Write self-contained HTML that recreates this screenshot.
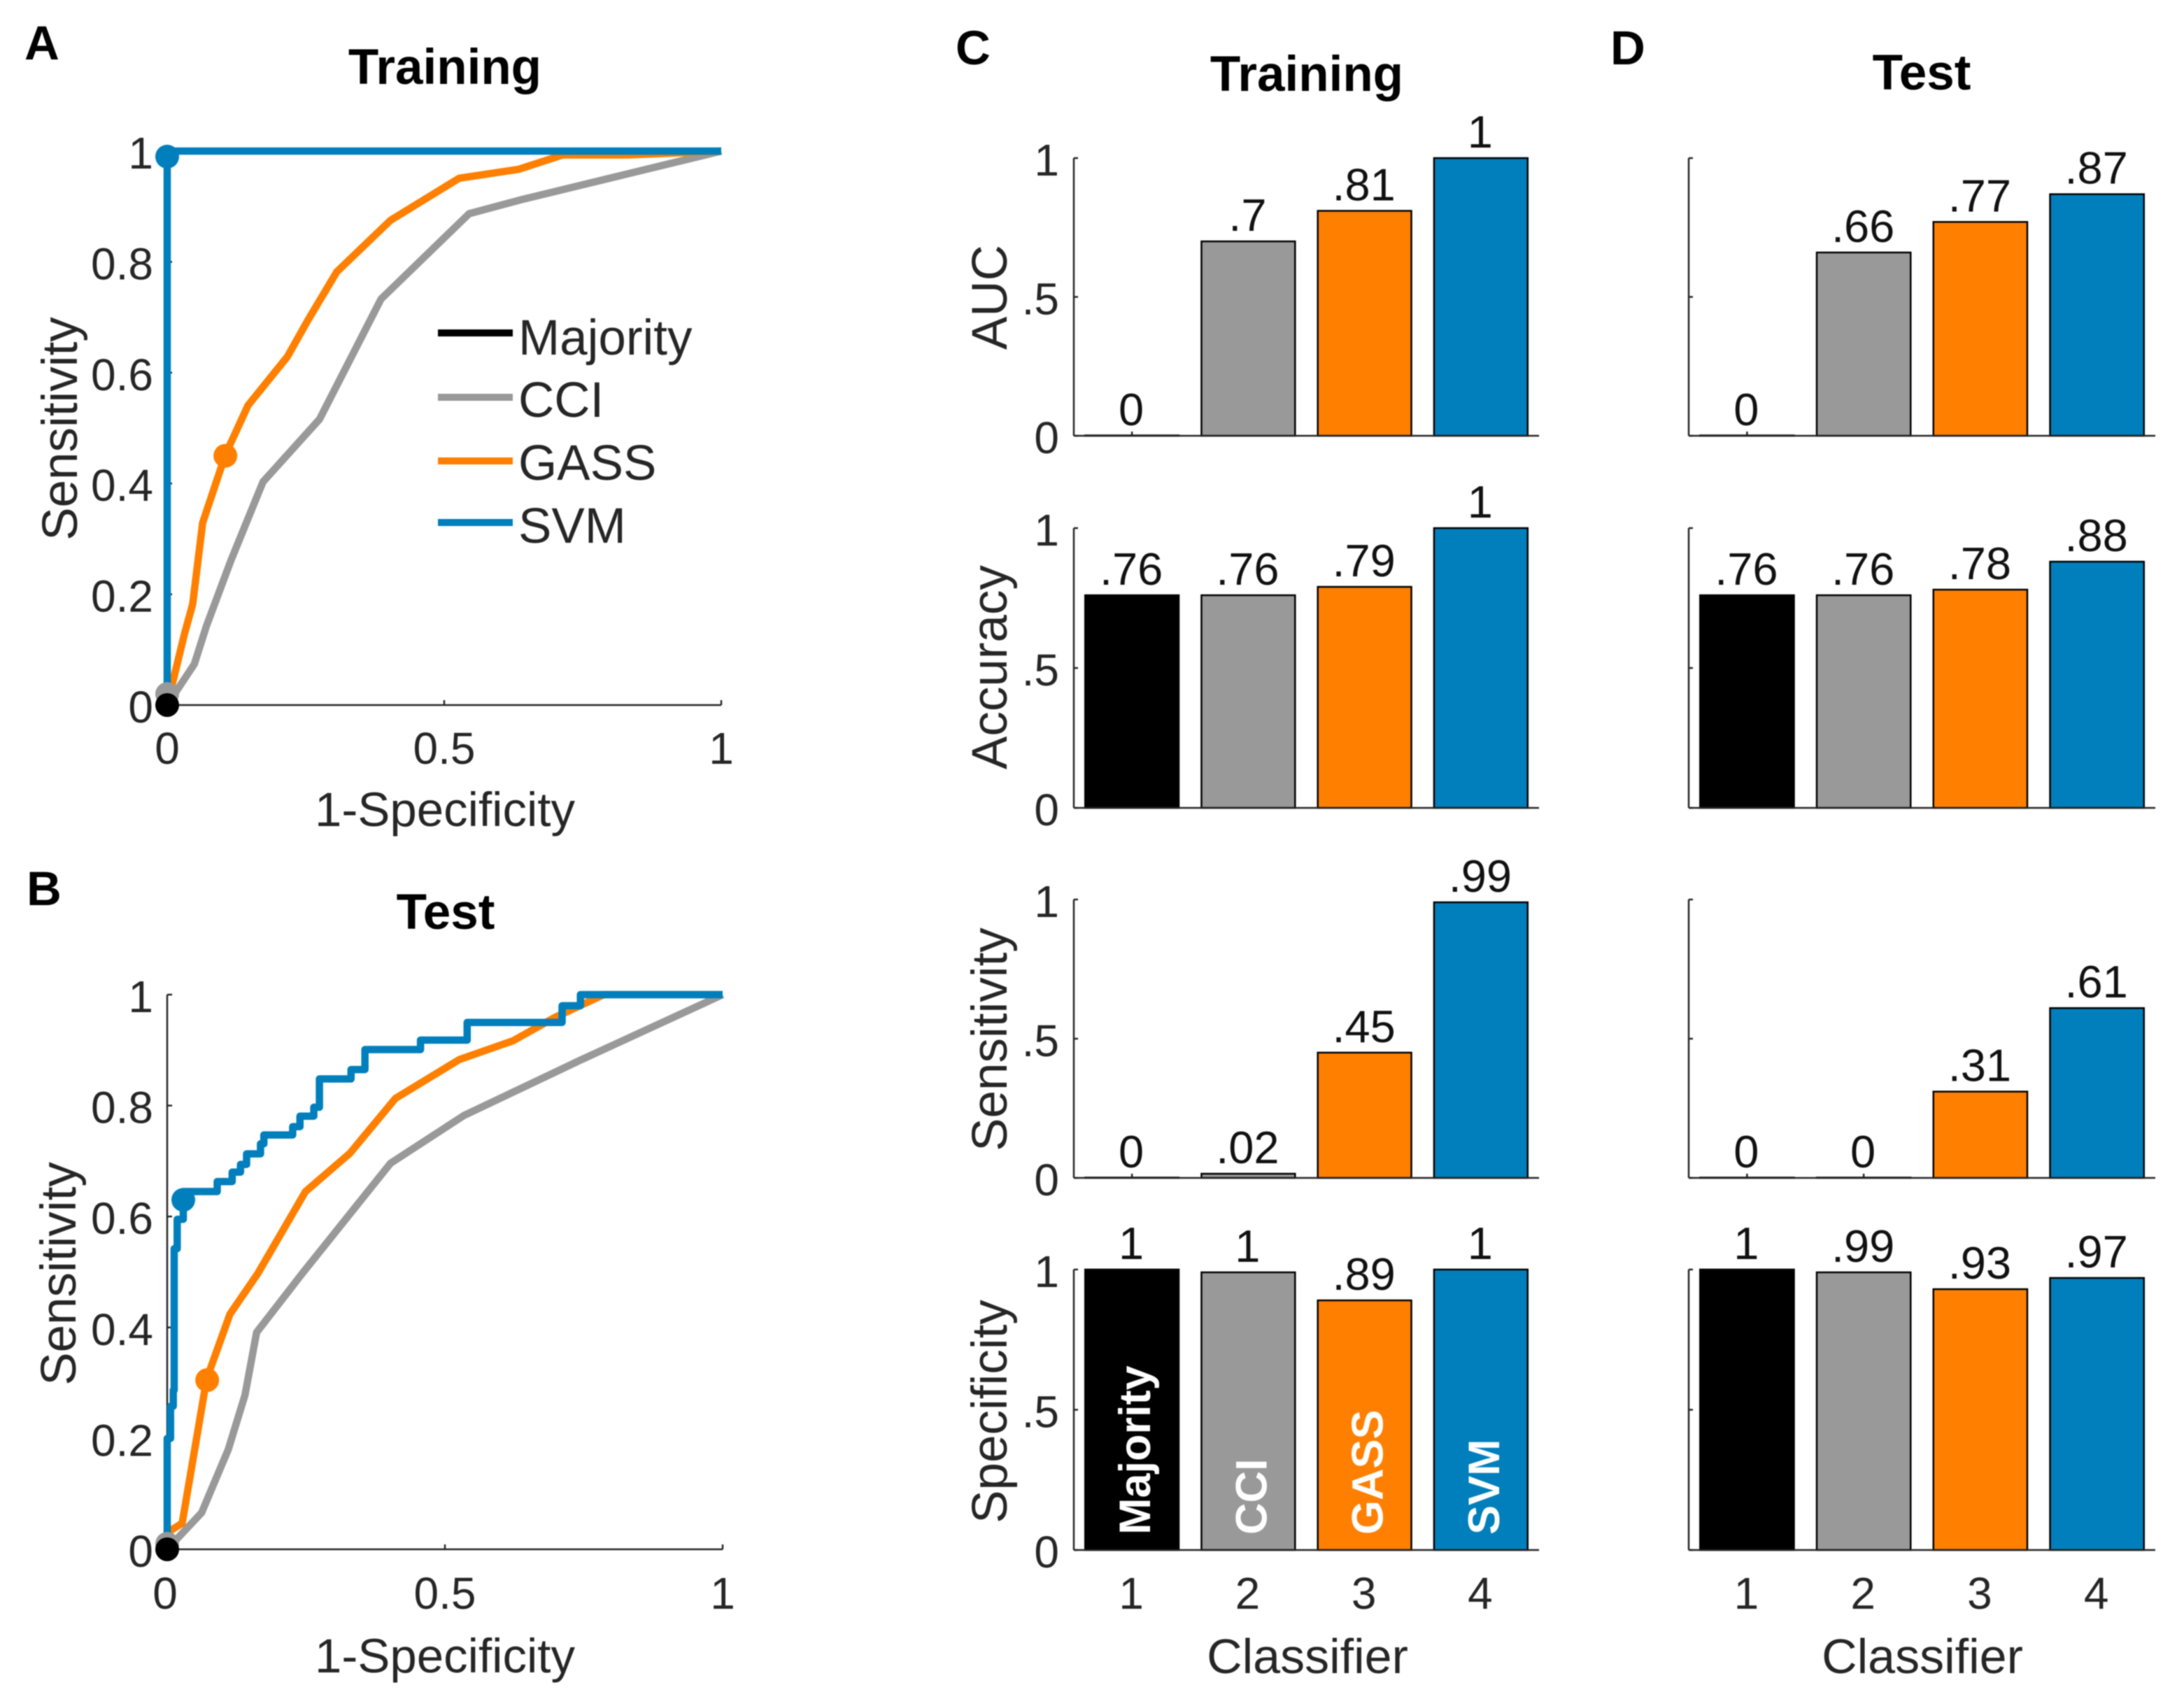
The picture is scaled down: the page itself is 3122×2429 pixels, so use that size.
<!DOCTYPE html>
<html lang="en">
<head>
<meta charset="utf-8">
<title>Classifier performance: ROC curves and metrics</title>
<style>
html,body{margin:0;padding:0;background:#fff;}
svg{display:block;font-family:"Liberation Sans",Arial,sans-serif;filter:blur(0.8px);}
</style>
</head>
<body>
<svg id="figure" xmlns="http://www.w3.org/2000/svg" width="3122" height="2429" viewBox="0 0 3122 2429"></svg>
<script>
// ---------- data ----------
const classifiers = ['Majority', 'CCI', 'GASS', 'SVM'];
const xTickLabelsBars = ['1', '2', '3', '4'];
const yTickValuesBars = [0, 0.5, 1];
const yTickLabelsBars = ['0', '.5', '1'];
const rocXTicks = [0, 0.5, 1];
const rocXTickLabels = ['0', '0.5', '1'];
const rocYTicks = [0, 0.2, 0.4, 0.6, 0.8, 1];
const rocYTickLabels = ['0', '0.2', '0.4', '0.6', '0.8', '1'];
const metricNames = ['AUC', 'Accuracy', 'Sensitivity', 'Specificity'];

const trainAUC = [0, 0.70, 0.81, 1];
const trainAccuracy = [0.76, 0.76, 0.79, 1];
const trainSensitivity = [0, 0.015, 0.45, 0.99];
const trainSpecificity = [1, 0.99, 0.89, 1];
const trainAUCLabels = ['0', '.7', '.81', '1'];
const trainAccuracyLabels = ['.76', '.76', '.79', '1'];
const trainSensitivityLabels = ['0', '.02', '.45', '.99'];
const trainSpecificityLabels = ['1', '1', '.89', '1'];

const testAUC = [0, 0.66, 0.77, 0.87];
const testAccuracy = [0.76, 0.76, 0.78, 0.88];
const testSensitivity = [0, 0, 0.31, 0.61];
const testSpecificity = [1, 0.99, 0.93, 0.97];
const testAUCLabels = ['0', '.66', '.77', '.87'];
const testAccuracyLabels = ['.76', '.76', '.78', '.88'];
const testSensitivityLabels = ['0', '0', '.31', '.61'];
const testSpecificityLabels = ['1', '.99', '.93', '.97'];

const rocTrainCciX = [0, 0.049, 0.071, 0.115, 0.173, 0.275, 0.386, 0.545, 0.638, 1];
const rocTrainCciY = [0, 0.074, 0.143, 0.261, 0.403, 0.516, 0.733, 0.887, 0.912, 1];
const rocTrainGassX = [0, 0.031, 0.046, 0.064, 0.105, 0.146, 0.217, 0.253, 0.306, 0.403, 0.527, 0.634, 0.714, 0.833, 1];
const rocTrainGassY = [0, 0.128, 0.182, 0.329, 0.452, 0.541, 0.629, 0.693, 0.782, 0.875, 0.951, 0.967, 0.993, 0.993, 1];
const rocTrainSvmX = [0, 0, 1];
const rocTrainSvmY = [0, 1, 1];

const rocTestCciX = [0, 0.062, 0.110, 0.140, 0.161, 0.243, 0.402, 0.534, 0.742, 1];
const rocTestCciY = [0, 0.066, 0.180, 0.278, 0.391, 0.497, 0.696, 0.782, 0.881, 1];
const rocTestGassX = [0, 0.027, 0.071, 0.113, 0.163, 0.249, 0.329, 0.411, 0.526, 0.623, 0.698, 0.786, 1];
const rocTestGassY = [0.03, 0.047, 0.307, 0.424, 0.497, 0.645, 0.714, 0.813, 0.883, 0.917, 0.959, 1, 1];
const rocTestSvmX = [0, 0.006, 0.011, 0.0126, 0.018, 0.029, 0.09, 0.117, 0.132, 0.143, 0.168, 0.174, 0.226, 0.239, 0.264, 0.274, 0.331, 0.356, 0.456, 0.54, 0.711, 0.744, 1];
const rocTestSvmY = [0.2, 0.258, 0.287, 0.542, 0.595, 0.645, 0.663, 0.68, 0.694, 0.713, 0.731, 0.747, 0.762, 0.781, 0.797, 0.848, 0.865, 0.901, 0.918, 0.95, 0.98, 1, 1];

const trainOpX = [0, 0, 0.105, 0];
const trainOpY = [0, 0.02, 0.45, 0.99];
const testOpX = [0, 0, 0.072, 0.029];
const testOpY = [0, 0.01, 0.305, 0.63];

// ---------- style ----------
const colors = ['#000000', '#999999', '#FF7F00', '#007FBC'];
const ink = '#262626';
const svg = document.getElementById('figure');
const NS = 'http://www.w3.org/2000/svg';

function make(tag, attrs, text) {
  const el = document.createElementNS(NS, tag);
  for (const k in attrs) el.setAttribute(k, attrs[k]);
  if (text !== undefined) el.textContent = text;
  svg.appendChild(el);
  return el;
}
function label(x, y, text, size, opts) {
  const o = opts || {};
  const attrs = {
    x: x, y: y, 'font-size': size, fill: o.fill || ink,
    'text-anchor': o.anchor || 'middle', 'font-weight': o.weight || 'normal'
  };
  if (o.rotate) attrs.transform = 'rotate(-90 ' + x + ' ' + y + ')';
  return make('text', attrs, text);
}
function line(x1, y1, x2, y2, color, width) {
  return make('line', {x1: x1, y1: y1, x2: x2, y2: y2, stroke: color, 'stroke-width': width});
}

// ---------- ROC panels ----------
function drawRoc(box, key, title, cciX, cciY, gassX, gassY, svmX, svmY, opX, opY, stepSvm, pos) {
  const sx = v => box.x0 + v * (box.x1 - box.x0);
  const sy = v => box.y0 - v * (box.y0 - box.y1);

  const xAxis = line(box.x0, box.y0, box.x1, box.y0, ink, 2.5);
  
  
  const yAxis = line(box.x0, box.y0, box.x0, box.y1, ink, 2.5);
  
  

  rocXTicks.forEach((t, i) => {
    const tick = line(sx(t), box.y0, sx(t), box.y0 - 7, ink, 2.5);
    
    
    const tl = label(i === 0 ? sx(t) + pos.zeroShift : sx(t), pos.xTickBase, rocXTickLabels[i], 64);
    
    
  });
  rocYTicks.forEach((t, i) => {
    const tick = line(box.x0, sy(t), box.x0 + 7, sy(t), ink, 2.5);
    
    
    const tl = label(219, sy(t) + 25, rocYTickLabels[i], 64, {anchor: 'end'});
    
    
  });

  const toPath = (xs, ys) => xs.map((x, i) => (i ? 'L' : 'M') + sx(x).toFixed(1) + ' ' + sy(ys[i]).toFixed(1)).join(' ');
  const toStep = (xs, ys) => {
    let d = 'M' + sx(0).toFixed(1) + ' ' + sy(0).toFixed(1);
    xs.forEach((x, i) => {
      d += ' H' + sx(x).toFixed(1) + ' V' + sy(ys[i]).toFixed(1);
    });
    return d;
  };
  const lineAttrs = (d, c) => ({d: d, fill: 'none', stroke: c, 'stroke-width': 10.5, 'stroke-linejoin': 'round'});

  const cciLine = make('path', lineAttrs(toPath(cciX, cciY), colors[1]));
  
  
  const gassLine = make('path', lineAttrs(toPath(gassX, gassY), colors[2]));
  
  
  const svmLine = make('path', lineAttrs(stepSvm ? toStep(svmX, svmY) : toPath(svmX, svmY), colors[3]));
  
  

  [1, 2, 3, 0].forEach(i => {
    const m = make('circle', {cx: sx(opX[i]), cy: sy(opY[i]), r: 17, fill: colors[i]});
    
    
  });

  const t = label(pos.titleX, pos.titleBase, title, 71, {weight: 'bold', fill: '#000'});
  
  
  const xt = label(636, pos.xLabelBase, '1-Specificity', 69);
  
  
  const yt = label(pos.yLabelX, pos.yLabelY, 'Sensitivity', 71, {rotate: true});
  
  
}

drawRoc({x0: 239, x1: 1031, y0: 1008, y1: 216}, 'roc-training', 'Training',
  rocTrainCciX, rocTrainCciY, rocTrainGassX, rocTrainGassY, rocTrainSvmX, rocTrainSvmY,
  trainOpX, trainOpY, false,
  {zeroShift: 0, xTickBase: 1092, titleX: 636, titleBase: 120, xLabelBase: 1181, yLabelX: 110, yLabelY: 613});

drawRoc({x0: 239, x1: 1033, y0: 2215, y1: 1422}, 'roc-test', 'Test',
  rocTestCciX, rocTestCciY, rocTestGassX, rocTestGassY, rocTestSvmX, rocTestSvmY,
  testOpX, testOpY, true,
  {zeroShift: -3, xTickBase: 2300, titleX: 637, titleBase: 1328, xLabelBase: 2391, yLabelX: 108, yLabelY: 1821});

// ---------- legend ----------
[476, 568, 659, 747].forEach((y, i) => {
  const k = classifiers[i].toLowerCase();
  const l = line(626, y, 733, y, colors[i], 10);
  
  
  const t = label(741, [507, 596, 686, 776][i], classifiers[i], 71, {anchor: 'start', fill: '#262626'});
  
  
});

// ---------- bar panels ----------
const rowTops = [226, 755, 1286, 1815];
const rowBases = [623, 1155, 1684, 2216];
const rowLabelMid = [425, 954, 1486, 2018];

function drawBars(key, x0, x1, r, values, printed, isTrain, isBottom) {
  const unit = (x1 - x0) / 4;
  const bx = i => x0 + (i + 0.5) * unit;
  const by = v => rowBases[r] - v * (rowBases[r] - rowTops[r]);
  const prefix = key + '-' + metricNames[r].toLowerCase();
  const barW = 0.805 * unit;

  yTickValuesBars.forEach((t, i) => {
    const tick = line(x0, by(t), x0 + 6, by(t), ink, 2.5);
    
    
    if (isTrain) {
      const tl = label(1514, by(t) + 25, yTickLabelsBars[i], 64, {anchor: 'end'});
      
      
    }
  });

  values.forEach((v, i) => {
    const tick = line(bx(i), rowBases[r], bx(i), rowBases[r] - 6, ink, 2.5);
    
    
    const rect = make('rect', {
      x: bx(i) - barW / 2, y: by(v) - (v === 0 ? 0.5 : 0), width: barW,
      height: Math.max(0.5, rowBases[r] - by(v)),
      fill: colors[i], stroke: '#000', 'stroke-width': 2.5
    });
    
    
    const val = label(bx(i) - 1, by(v) - 15, printed[i], 65, {fill: '#111'});
    
    
    if (isBottom) {
      const xl = label(bx(i) - 1, 2300, xTickLabelsBars[i], 64);
      
      
    }
  });

  const xAxis = line(x0, rowBases[r], x1, rowBases[r], ink, 2.5);
  
  
  const yAxis = line(x0, rowBases[r], x0, rowTops[r], ink, 2.5);
  
  

  if (isTrain) {
    const yt = label(1439, rowLabelMid[r], metricNames[r], 71, {rotate: true});
    
    
  }
  if (isTrain && isBottom) {
    classifiers.forEach((c, i) => {
      const t = label(bx(i) + 26, 2194, c, 63, {anchor: 'start', weight: 'bold', fill: '#fff', rotate: true});
      
      
    });
  }
}

drawBars('bars-training', 1535, 2200, 0, trainAUC, trainAUCLabels, true, false);
drawBars('bars-training', 1535, 2200, 1, trainAccuracy, trainAccuracyLabels, true, false);
drawBars('bars-training', 1535, 2200, 2, trainSensitivity, trainSensitivityLabels, true, false);
drawBars('bars-training', 1535, 2200, 3, trainSpecificity, trainSpecificityLabels, true, true);
drawBars('bars-test', 2414, 3081, 0, testAUC, testAUCLabels, false, false);
drawBars('bars-test', 2414, 3081, 1, testAccuracy, testAccuracyLabels, false, false);
drawBars('bars-test', 2414, 3081, 2, testSensitivity, testSensitivityLabels, false, false);
drawBars('bars-test', 2414, 3081, 3, testSpecificity, testSpecificityLabels, false, true);

const cTitle = label(1868, 130, 'Training', 71, {weight: 'bold', fill: '#000'});


const dTitle = label(2747, 128, 'Test', 71, {weight: 'bold', fill: '#000'});


const cXTitle = label(1869, 2392, 'Classifier', 70);


const dXTitle = label(2748, 2392, 'Classifier', 70);



// ---------- panel letters ----------
const letterA = label(35, 85, 'A', 69, {anchor: 'start', weight: 'bold', fill: '#000'});


const letterB = label(38, 1294, 'B', 69, {anchor: 'start', weight: 'bold', fill: '#000'});


const letterC = label(1366, 92, 'C', 69, {anchor: 'start', weight: 'bold', fill: '#000'});


const letterD = label(2302, 92, 'D', 69, {anchor: 'start', weight: 'bold', fill: '#000'});


</script>
</body>
</html>
